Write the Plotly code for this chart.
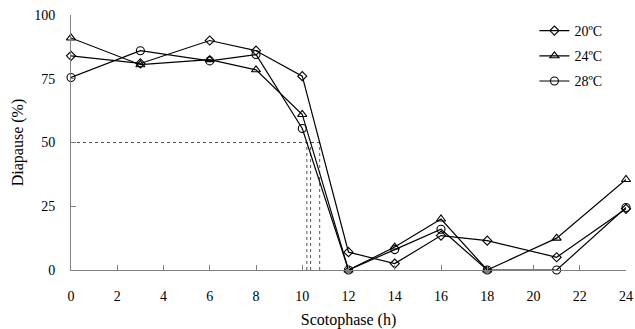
import numpy as np
import plotly.graph_objects as go

hours = [0, 3, 6, 8, 10, 12, 14, 16, 18, 21, 24]
t20 = [84, 81, 90, 86, 76, 7, 2.5, 13.5, 11.5, 5, 24]
t24 = [91, 80.5, 82.5, 78.5, 61, 0, 9, 20, 0, 12.5, 35.5]
t28 = [75.5, 86, 82, 84.5, 55.5, 0, 8, 16, 0, 0, 24.5]
names = ["20ºC", "24ºC", "28ºC"]
symbols = ["diamond-open", "triangle-up-open", "circle-open"]
sizes = [7, 8, 8]
series = [t20, t24, t28]
x_ticks = list(range(0, 25, 2))
y_ticks = [0, 25, 50, 75, 100]
threshold = 50

FONT = "Liberation Serif, Times New Roman, Times, serif"
fig = go.Figure()


def crossing(xs, ys, level):
    # first downward crossing of level, linear interpolation
    for i in range(len(xs) - 1):
        if ys[i] >= level > ys[i + 1]:
            return xs[i] + (ys[i] - level) / (ys[i] - ys[i + 1]) * (xs[i + 1] - xs[i])
    return None


crosses = [crossing(hours, s, threshold) for s in series]
dash_style = dict(color="#555555", width=1, dash="dot")
fig.add_trace(go.Scatter(x=[0, max(crosses) + 0.08], y=[threshold, threshold], mode="lines",
                         line=dash_style, showlegend=False, hoverinfo="skip"))
for c in crosses:
    fig.add_trace(go.Scatter(x=[c, c], y=[0, threshold], mode="lines",
                             line=dash_style, showlegend=False, hoverinfo="skip"))

for i, (nm, sym, sz, s) in enumerate(zip(names, symbols, sizes, series)):
    fig.add_trace(go.Scatter(
        x=hours, y=s, name=nm, mode="lines+markers",
        line=dict(color="black", width=1.2),
        marker=dict(symbol=sym, size=sz, color="black", line=dict(color="black", width=1.1)),
        cliponaxis=False, legendgroup=nm,
    ))

fig.update_layout(
    width=635, height=329,
    margin=dict(l=71, r=9, t=15, b=59),
    paper_bgcolor="white", plot_bgcolor="white",
    font=dict(family=FONT, color="black", size=14),
    legend=dict(x=0.835, y=1.0, xanchor="left", yanchor="top",
                font=dict(family=FONT, size=14), traceorder="grouped",
                tracegroupgap=4, itemwidth=30, bgcolor="rgba(0,0,0,0)"),
    showlegend=True,
)
fig.update_xaxes(
    range=[0, 24], tickvals=x_ticks, ticks="inside", ticklen=5, tickcolor="#808080",
    showline=True, linecolor="#808080", linewidth=1, showgrid=False, zeroline=False,
    tickfont=dict(family=FONT, size=14), ticklabelstandoff=13, automargin=False,
    title=dict(text="Scotophase (h)", font=dict(family=FONT, size=16), standoff=12),
)
fig.update_yaxes(
    range=[0, 100], tickvals=y_ticks, ticks="inside", ticklen=5, tickcolor="#808080",
    showline=True, linecolor="#808080", linewidth=1, showgrid=False, zeroline=False,
    tickfont=dict(family=FONT, size=14), ticklabelstandoff=12, automargin=False,
    title=dict(text="Diapause (%)", font=dict(family=FONT, size=16), standoff=6),
)

fig.write_html("out.html")
